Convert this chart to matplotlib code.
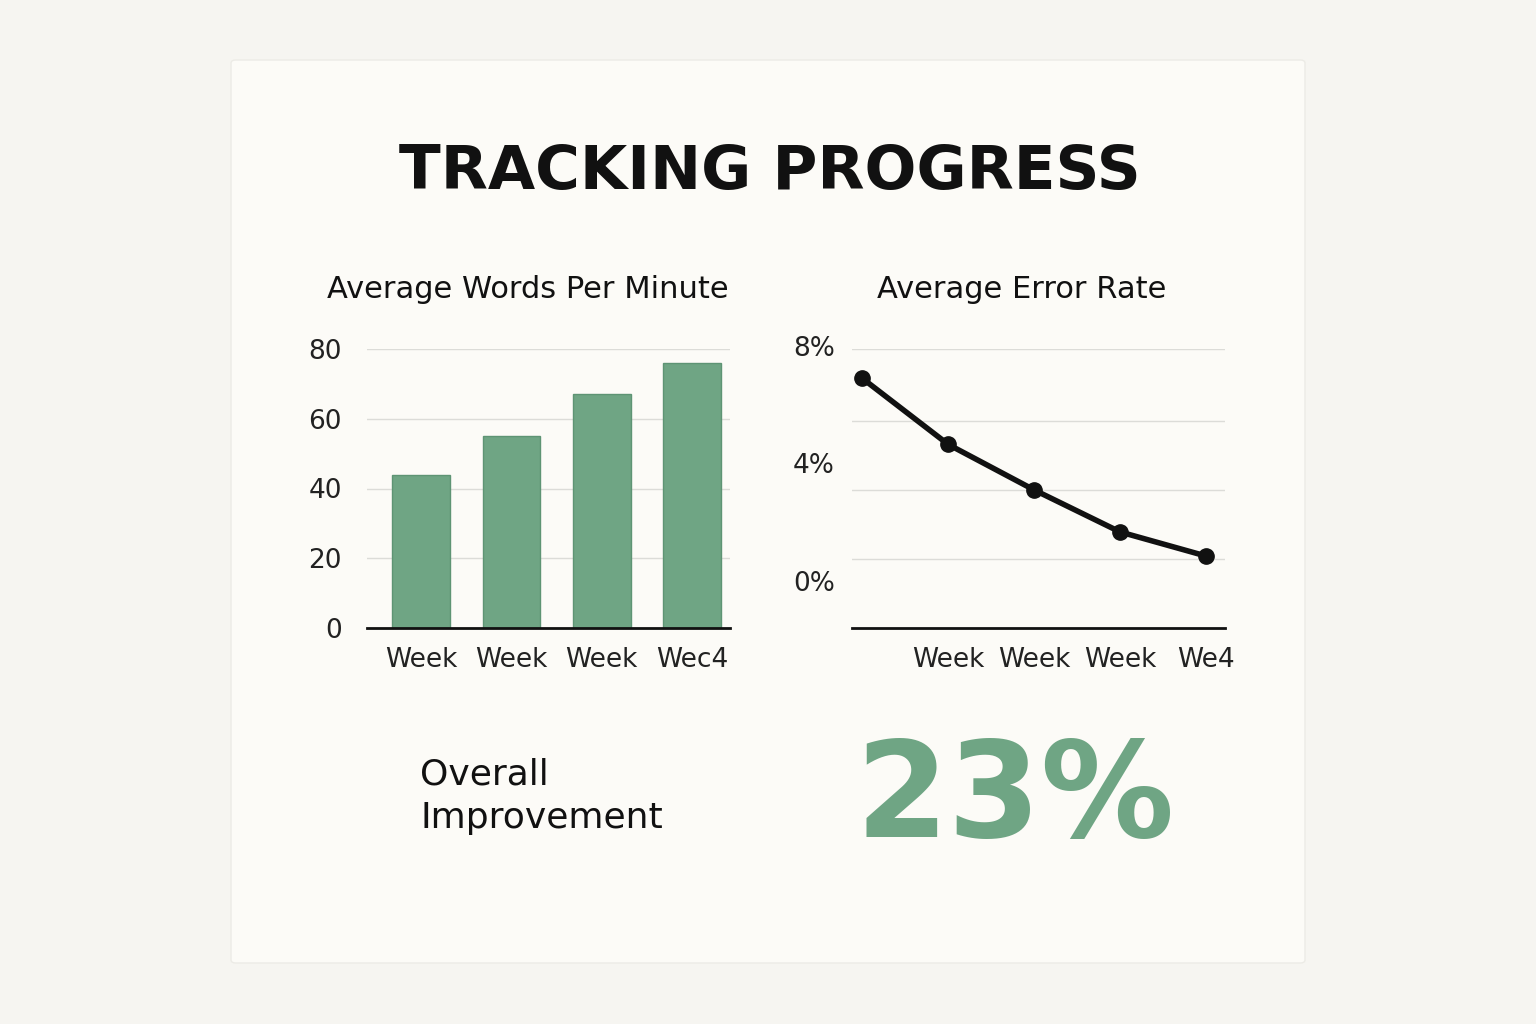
import matplotlib.pyplot as plt
from matplotlib.patches import FancyBboxPatch

weeks_wpm = ["Week", "Week", "Week", "Wec4"]
wpm = [44, 55, 67, 76]
wpm_ticks = [0, 20, 40, 60, 80]

err_x = [0, 1, 2, 3, 4]
err_rate = [7.0, 4.75, 3.2, 1.77, 0.95]
err_xticks = [1, 2, 3, 4]
err_xlabels = ["Week", "Week", "Week", "We4"]
err_labels = ["0%", "4%", "8%"]
err_label_pos = [0, 4, 8]
err_grid = [8, 5.55, 3.2, 0.85]

GREEN = "#6fa584"
W, H = 1536, 1024
fig = plt.figure(figsize=(15.36, 10.24), dpi=100)
fig.patch.set_facecolor("#f6f5f1")

def fx(px): return px / W
def fy(py): return 1 - py / H

card = FancyBboxPatch((fx(231), fy(963)), fx(1305) - fx(231), fy(60) - fy(963),
                      boxstyle="round,pad=0,rounding_size=0.003", transform=fig.transFigure,
                      facecolor="#fcfbf7", edgecolor="#ecebe6", lw=1, zorder=-5)
fig.patches.append(card)

fig.text(fx(770), fy(172), "TRACKING PROGRESS", ha="center", va="center",
         fontsize=44, fontweight="bold", color="#111111")

# left: bar chart
ax1 = fig.add_axes([fx(367), fy(628), fx(730) - fx(367), fy(349) - fy(628)], zorder=2)
ax1.set_facecolor("none")
ax1.bar(range(len(wpm)), wpm, width=0.64, color=GREEN, edgecolor="#5e9474", lw=1, zorder=2)
ax1.set_ylim(0, 80)
ax1.set_xlim(-0.6, 3.42)
ax1.set_yticks(wpm_ticks)
ax1.set_xticks(range(len(wpm)), weeks_wpm)
ax1.grid(axis="y", color="#dcdcd8", lw=1, zorder=0)
for s in ["top", "right", "left"]:
    ax1.spines[s].set_visible(False)
ax1.spines["bottom"].set_color("#111111")
ax1.spines["bottom"].set_linewidth(2)
ax1.tick_params(length=0, labelsize=19, colors="#222222", pad=14)
ax1.tick_params(axis="y", pad=18)
fig.text(fx(528), fy(290), "Average Words Per Minute", ha="center", va="center",
         fontsize=22, color="#111111")

# right: line chart
ax2 = fig.add_axes([fx(852), fy(628), fx(1225) - fx(852), fy(349) - fy(628)], zorder=2)
ax2.set_facecolor("none")
ax2.set_ylim(-1.5, 8)
ax2.set_xlim(-0.12, 4.22)
ax2.set_yticks(err_grid)
ax2.set_yticklabels([])
ax2.grid(axis="y", color="#dcdcd8", lw=1, zorder=0)
ax2.plot(err_x, err_rate, color="#111111", lw=4, marker="o", markersize=11, zorder=3)
ax2.set_xticks(err_xticks, err_xlabels)
for s in ["top", "right", "left"]:
    ax2.spines[s].set_visible(False)
ax2.spines["bottom"].set_color("#111111")
ax2.spines["bottom"].set_linewidth(2)
ax2.tick_params(length=0, labelsize=19, colors="#222222", pad=14)
for lab, v in zip(err_labels, err_label_pos):
    ax2.text(-0.32, v, lab, ha="right", va="center", fontsize=19, color="#222222",
             transform=ax2.transData, clip_on=False)
fig.text(fx(1022), fy(290), "Average Error Rate", ha="center", va="center",
         fontsize=22, color="#111111")

fig.text(fx(420), fy(796), "Overall\nImprovement", ha="left", va="center",
         fontsize=26, fontweight="medium", color="#111111", linespacing=1.35)
fig.text(fx(1015), fy(800), "23%", ha="center", va="center", fontsize=96,
         fontweight="bold", color=GREEN)

fig.savefig("out.png", dpi=100, facecolor=fig.get_facecolor())
